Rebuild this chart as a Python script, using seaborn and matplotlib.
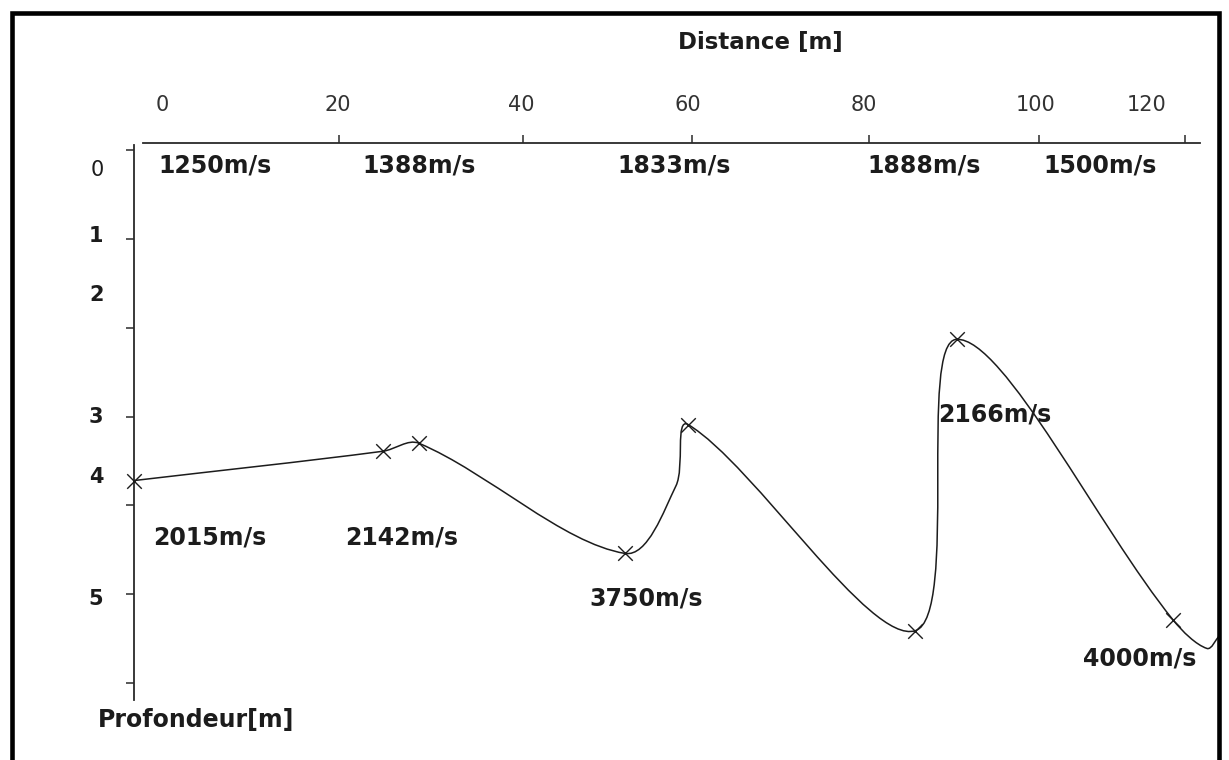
import numpy as np
import pandas as pd
import matplotlib
matplotlib.use('Agg')
import matplotlib.pyplot as plt
import seaborn as sns
from matplotlib.path import Path
from matplotlib.patches import PathPatch, Rectangle

# refractor interface as drawn: distance (m) and depth (m)
line_dist = [-3.2, 25.1, 29.2, 52.6, 58.4, 59.8, 85.6, 90.3, 114.9, 118.75, 120.2]
line_depth = [3.72, 3.39, 3.30, 4.54, 3.78, 3.09, 5.41, 2.13, 5.29, 5.61, 5.46]
# vertices that carry an x marker (geophone picks)
marked = [True, True, True, True, False, True, True, True, True, False, False]

# first layer velocities
top_labels = ['1250m/s', '1388m/s', '1833m/s', '1888m/s', '1500m/s']
top_dist = [-0.45, 22.8, 51.8, 80.1, 100.1]
top_depth = [0.17, 0.17, 0.17, 0.17, 0.17]

# second layer velocities
low_labels = ['2015m/s', '2142m/s', '3750m/s', '2166m/s', '4000m/s']
low_dist = [-1.0, 20.8, 48.6, 88.2, 104.7]
low_depth = [4.36, 4.36, 5.05, 2.98, 5.72]

# axis ticks, as drawn in the figure
x_tick_labels = ['0', '20', '40', '60', '80', '100', '120']
x_label_at = [0, 20, 40.8, 59.8, 79.8, 99.3, 111.9]
x_tick_at = [0, 20.1, 41.0, 60.2, 80.3, 99.7, 116.3]

y_tick_labels = ['0', '1', '2', '3', '4', '5']
y_label_at = [0.20, 0.94, 1.61, 2.98, 3.66, 5.03]
y_tick_at = [0, 1, 2, 3, 4, 5, 6]

df = pd.DataFrame({'dist': line_dist, 'depth': line_depth, 'marked': marked})

sns.set_theme(style='white')
plt.rcParams['font.family'] = ['DejaVu Sans']

fig = plt.figure(figsize=(12.29, 7.60), dpi=100)
ax = fig.add_axes([0.10903, 0.07895, 0.88527, 0.73289])
ax.set_xlim(-3.18, 120.45)
ax.set_ylim(6.19, -0.08)

ink = '#1c1c1c'


def smooth_path(ax, xs, ys):
    # smoothed line through the vertices (bezier, computed in screen space)
    pts = ax.transData.transform(np.column_stack([xs, ys]))
    n = len(pts)
    verts = [pts[0]]
    codes = [Path.MOVETO]
    for i in range(n - 1):
        p0 = pts[i - 1] if i > 0 else pts[i]
        p1, p2 = pts[i], pts[i + 1]
        p3 = pts[i + 2] if i + 2 < n else pts[i + 1]
        d01 = np.linalg.norm(p1 - p0)
        d12 = np.linalg.norm(p2 - p1)
        d23 = np.linalg.norm(p3 - p2)
        c1 = p1 + (p2 - p0) * d12 / (d01 + d12) / 3
        c2 = p2 - (p3 - p1) * d12 / (d12 + d23) / 3
        verts += [c1, c2, p2]
        codes += [Path.CURVE4] * 3
    verts = ax.transData.inverted().transform(np.array(verts))
    return Path(verts, codes)


path = smooth_path(ax, df['dist'].values, df['depth'].values)
ax.add_patch(PathPatch(path, facecolor='none', edgecolor=ink, lw=1.1, zorder=2))

sns.scatterplot(data=df[df['marked']], x='dist', y='depth', marker='x', s=110,
                color=ink, linewidth=1.0, ax=ax, legend=False, clip_on=False, zorder=3)
ax.set_xlabel('')
ax.set_ylabel('')

for lab, x, y in zip(top_labels, top_dist, top_depth):
    ax.text(x, y, lab, ha='left', va='center', fontsize=17, fontweight='bold', color=ink)
for lab, x, y in zip(low_labels, low_dist, low_depth):
    ax.text(x, y, lab, ha='left', va='center', fontsize=17, fontweight='bold', color=ink)

# axes: only top and left lines
for side in ['right', 'bottom']:
    ax.spines[side].set_visible(False)
ax.spines['top'].set_bounds(-2.16, 117.95)
ax.spines['left'].set_bounds(-0.06, 6.19)
for side in ['top', 'left']:
    ax.spines[side].set_color('#2a2a2a')
    ax.spines[side].set_linewidth(1.3)

ax.xaxis.tick_top()
ax.set_xticks(x_label_at, x_tick_labels)
ax.set_xticks(x_tick_at, minor=True)
ax.tick_params(axis='x', which='major', length=0, pad=20, labelsize=15, labelcolor='#333333')
ax.tick_params(axis='x', which='minor', direction='out', length=6, width=1.1, color='#2a2a2a')

ax.set_yticks(y_label_at, y_tick_labels)
ax.set_yticks(y_tick_at, minor=True)
ax.tick_params(axis='y', which='major', length=0, pad=22, labelsize=15, labelcolor=ink)
ax.tick_params(axis='y', which='minor', direction='out', length=6, width=1.1, color='#2a2a2a', left=True)
for i, t in enumerate(ax.get_yticklabels()):
    t.set_fontweight('normal' if i == 0 else 'bold')

fig.text(760 / 1229, 1 - 43 / 760, 'Distance [m]', ha='center', va='center',
         fontsize=16.5, fontweight='bold', color=ink)
fig.text(98 / 1229, 1 - 720 / 760, 'Profondeur[m]', ha='left', va='center',
         fontsize=17, fontweight='bold', color=ink)

# outer frame
fig.patches.append(Rectangle((0.01017, -0.00132), 0.98210, 0.98487, transform=fig.transFigure,
                             fill=False, lw=3.3, edgecolor='black'))

fig.savefig('out.png', dpi=100)
